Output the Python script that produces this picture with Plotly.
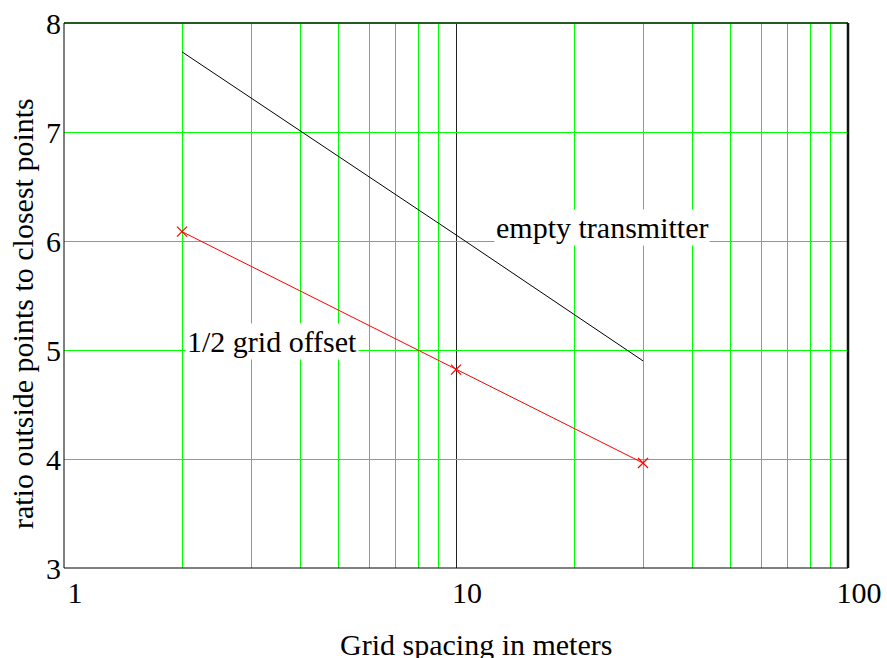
import plotly.graph_objects as go

# Grid spacing (m) and the resulting outside/closest ratio
spacing = [2, 10, 30]
empty_transmitter = [7.735, 6.056, 4.90]
half_grid_offset = [6.086, 4.82, 3.963]

# Axis ticks
x_tick_vals = [1, 10, 100]
x_tick_text = ["1", "10", "100"]
x_minor_vals = [2, 3, 4, 5, 6, 7, 8, 9, 20, 30, 40, 50, 60, 70, 80, 90]
y_tick_vals = [3, 4, 5, 6, 7, 8]

FONT = "Liberation Serif"
SIZE = 30
GREEN = "#00ff00"

fig = go.Figure()

fig.add_trace(go.Scatter(
    x=spacing, y=empty_transmitter, mode="lines",
    line=dict(color="black", width=1),
    name="empty transmitter",
))
fig.add_trace(go.Scatter(
    x=spacing, y=half_grid_offset, mode="lines+markers",
    line=dict(color="red", width=1),
    marker=dict(symbol="x-thin", size=10, line=dict(color="red", width=1.2), color="red"),
    name="1/2 grid offset",
))

fig.update_layout(
    width=887, height=658,
    margin=dict(l=64, r=39, t=23, b=90),
    paper_bgcolor="white", plot_bgcolor="white",
    showlegend=False,
    font=dict(family=FONT, size=SIZE, color="black"),
    xaxis=dict(
        type="log", range=[0, 2], automargin=False,
        tickvals=x_tick_vals, ticktext=x_tick_text,
        showgrid=True, gridcolor="#222222", gridwidth=1,
        minor=dict(tickvals=x_minor_vals, showgrid=True, gridcolor=GREEN, gridwidth=1, ticks=""),
        zeroline=False, showline=False, ticks="",
        ticklabelshift=11, ticklabelstandoff=4,
        tickfont=dict(family=FONT, size=SIZE),
    ),
    yaxis=dict(
        range=[3, 8], automargin=False,
        tickvals=y_tick_vals,
        showgrid=True, gridcolor=GREEN, gridwidth=1,
        zeroline=False, showline=False, ticks="",
        ticklabelstandoff=2,
        tickfont=dict(family=FONT, size=SIZE),
    ),
)

# Frame around the plotting area
fig.add_shape(type="line", xref="paper", yref="paper", x0=0, x1=1, y0=1, y1=1,
              line=dict(color="#245a24", width=2), layer="above")
fig.add_shape(type="line", xref="paper", yref="paper", x0=0, x1=1, y0=0, y1=0,
              line=dict(color="black", width=1), layer="above")
fig.add_shape(type="line", xref="paper", yref="paper", x0=0, x1=0, y0=0, y1=1,
              line=dict(color="black", width=1), layer="above")
fig.add_shape(type="line", xref="paper", yref="paper", x0=1, x1=1, y0=0, y1=1,
              line=dict(color="#111111", width=2.5), layer="above")

# Axis titles
fig.add_annotation(x=0.5255, y=0, xref="paper", yref="paper", yshift=-76,
                   text="Grid spacing in meters", showarrow=False,
                   xanchor="center", yanchor="middle", font=dict(family=FONT, size=SIZE))
fig.add_annotation(x=0, y=0.466, xref="paper", yref="paper", xshift=-42,
                   text="ratio outside points to closest points", showarrow=False, textangle=-90,
                   xanchor="center", yanchor="middle", font=dict(family=FONT, size=SIZE))

# Series labels on a white background
fig.add_annotation(x=1.372, y=6.12, xref="x", yref="y", text="empty transmitter",
                   showarrow=False, bgcolor="white", font=dict(family=FONT, size=SIZE))
fig.add_annotation(x=0.531, y=5.08, xref="x", yref="y", text="1/2 grid offset",
                   showarrow=False, bgcolor="white", font=dict(family=FONT, size=SIZE))

fig.write_html("out.html")
